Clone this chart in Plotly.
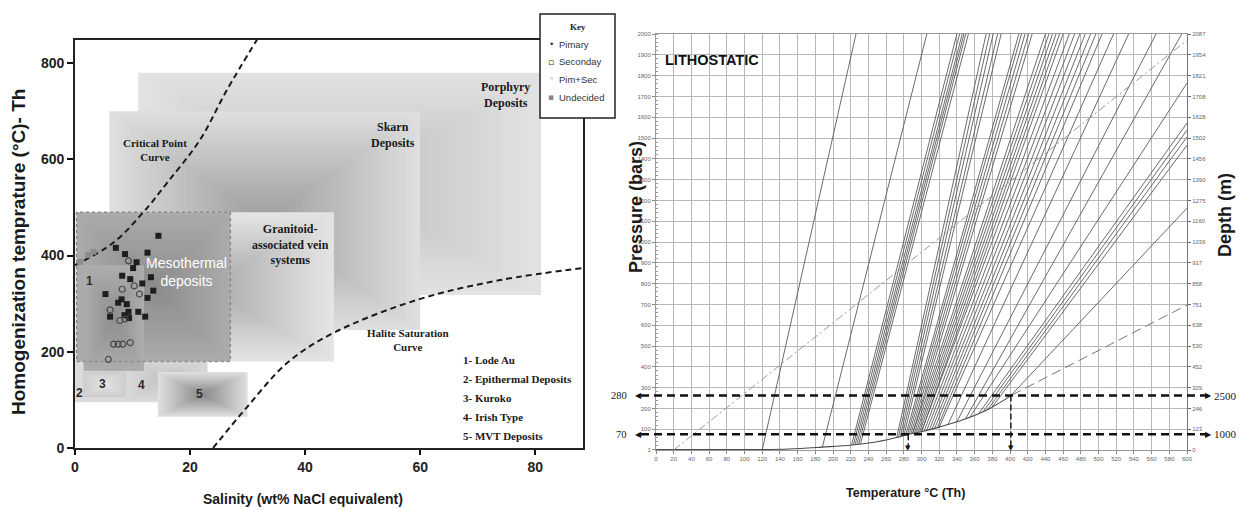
import plotly.graph_objects as go

W, H = 1239, 510
def fx(p):
    return p / W
def fy(p):
    return 1 - p / H

# ---------------- LEFT PANEL DATA ----------------
sal_ticks = [0, 20, 40, 60, 80]
th_ticks = [0, 200, 400, 600, 800]

crit_sal = [0, 6.6, 11.8, 16.0, 21.7, 26.4, 31.7]
crit_th = [380, 426, 489, 551, 640, 744, 850]
halite_sal = [24.0, 29.9, 36.9, 44.9, 59.5, 73.9, 89.0]
halite_th = [0, 85, 177, 239, 308, 349, 375]

sec_sal = [14.5, 7.1, 8.7, 12.6, 10.7, 10.1, 8.2, 9.6, 13.2, 11.7, 13.6, 12.6, 5.3, 8.1, 9.0, 7.5, 9.3, 11.0, 12.2, 9.4, 6.1, 8.6]
sec_th = [441, 416, 403, 406, 386, 374, 358, 351, 355, 342, 327, 312, 320, 309, 299, 302, 283, 283, 273, 270, 273, 276]
ps_sal = [9.3, 10.3, 11.2, 8.2, 6.1, 7.8, 8.7, 6.7, 7.5, 8.3, 9.6, 5.8]
ps_th = [389, 337, 320, 330, 287, 265, 268, 216, 216, 216, 219, 184]
und_sal = [0.9, 2.3, 3.2]
und_th = [387, 401, 408]

# deposit fields (drawing order)
box_name = ["Porphyry", "Skarn", "Granitoid", "Epithermal", "Irish", "Kuroko", "MVT", "Mesothermal", "Lode Au"]
box_x0 = [11, 6, 0, 0, 9, 1.4, 14.4, 0.3, 1.5]
box_x1 = [81, 60, 45, 23, 23, 8.7, 30, 27, 12]
box_y0 = [318, 245, 180, 95, 100, 106, 65, 180, 160]
box_y1 = [780, 700, 490, 183, 185, 158, 158, 490, 380]
box_edge = ["#e2e2e2", "#dedede", "#e4e4e4", "#dcdcdc", "#d8d8d8", "#cdcdcd", "#dfdfdf", "#ababab", "#adadad"]
box_center = ["#bdbdbd", "#9e9e9e", "#a9a9a9", "#cbcbcb", "#c3c3c3", "#e4e4e4", "#8a8a8a", "#8c8c8c", "#8f8f8f"]

# ---------------- RIGHT PANEL DATA ----------------
temp_ticks = list(range(0, 601, 20))
pres_ticks = [1] + list(range(100, 2001, 100))
depth_ticks = list(range(0, 2001, 100))
depth_labels = ["0", "123", "246", "329", "452", "530", "638", "751", "858", "917", "1036",
                "1160", "1275", "1390", "1456", "1502", "1628", "1708", "1821", "1954", "2087"]

lv_t = [0, 100, 150, 188, 222, 250, 272, 285, 300, 320, 346, 375, 402]
lv_p = [2, 2, 5, 14, 24, 40, 60, 75, 88, 110, 144, 195, 264]

ext_t = [402, 600]
ext_p = [264, 697]
grad_t = [20, 600]
grad_p = [0, 1970]

iso_t0 = [120, 188, 221, 223, 225, 227, 229, 231,
          272, 274, 276, 278, 280,
          282, 284, 286, 288, 290,
          290, 292, 294, 296, 298, 300,
          300, 303, 306, 309, 312, 315, 318,
          320, 330, 340, 350,
          355, 365, 370, 375, 380, 401]
iso_p0 = [0, 14, 24, 25, 26, 27, 28, 29,
          60, 62, 64, 66, 68,
          70, 73, 75, 77, 79,
          79, 81, 83, 85, 87, 88,
          88, 91, 95, 98, 101, 105, 108,
          110, 123, 136, 152,
          160, 177, 186, 195, 207, 262]
iso_t1 = [226, 306, 340, 343, 346, 348, 350, 353,
          373, 377, 381, 386, 390,
          410, 413, 417, 421, 425,
          440, 444, 448, 452, 456, 460,
          467, 473, 479, 485, 491, 497, 504,
          517, 534, 565, 594,
          600, 600, 600, 600, 600, 600]
iso_p1 = [2000] * 35 + [1764, 1572, 1538, 1505, 1466, 1163]

marker_p = [262, 76]
marker_left = ["280", "70"]
marker_right = ["2500", "1000"]
drop_t = [285, 401]
drop_p = [76, 262]

# ---------------- FIGURE ----------------
fig = go.Figure()

def hex2rgb(h):
    h = h.lstrip("#")
    return [int(h[i:i + 2], 16) for i in (0, 2, 4)]

shapes = []
N = 30
for x0, x1, y0, y1, e, c in zip(box_x0, box_x1, box_y0, box_y1, box_edge, box_center):
    ce, cc = hex2rgb(e), hex2rgb(c)
    cx, cy = (x0 + x1) / 2, (y0 + y1) / 2
    for k in range(N):
        f = k / N
        t = k / (N - 1)
        col = "rgb(%d,%d,%d)" % tuple(round(ce[i] + (cc[i] - ce[i]) * t) for i in range(3))
        shapes.append(dict(type="rect", xref="x", yref="y", layer="below",
                           x0=x0 + (cx - x0) * f, x1=x1 - (x1 - cx) * f,
                           y0=y0 + (cy - y0) * f, y1=y1 - (y1 - cy) * f,
                           fillcolor=col, line=dict(width=0)))
# mesothermal dotted border
mi = box_name.index("Mesothermal")
shapes.append(dict(type="rect", xref="x", yref="y", layer="below",
                   x0=box_x0[mi], x1=box_x1[mi], y0=box_y0[mi], y1=box_y1[mi],
                   fillcolor="rgba(0,0,0,0)", line=dict(color="#8a8a8a", width=1.5, dash="dot")))

# curves left
fig.add_trace(go.Scatter(x=crit_sal, y=crit_th, mode="lines", line=dict(color="#1a1a1a", width=2, dash="6px,4px", shape="spline"),
                         xaxis="x", yaxis="y", showlegend=False, hoverinfo="skip"))
fig.add_trace(go.Scatter(x=halite_sal, y=halite_th, mode="lines", line=dict(color="#1a1a1a", width=2, dash="6px,4px", shape="spline"),
                         xaxis="x", yaxis="y", showlegend=False, hoverinfo="skip"))
fig.add_trace(go.Scatter(x=und_sal, y=und_th, mode="markers", marker=dict(symbol="square", size=6, color="#8c8c8c"),
                         xaxis="x", yaxis="y", showlegend=False))
fig.add_trace(go.Scatter(x=sec_sal, y=sec_th, mode="markers", marker=dict(symbol="square", size=6, color="#1e1e1e"),
                         xaxis="x", yaxis="y", showlegend=False))
fig.add_trace(go.Scatter(x=ps_sal, y=ps_th, mode="markers",
                         marker=dict(symbol="circle-open", size=6, color="#4a4a4a", line=dict(width=1.2)),
                         xaxis="x", yaxis="y", showlegend=False))

# right panel lines
ix, iy = [], []
for a0, b0, c0, d0 in zip(iso_t0, iso_p0, iso_t1, iso_p1):
    ix += [a0, c0, None]
    iy += [b0, d0, None]
fig.add_trace(go.Scatter(x=ix, y=iy, mode="lines", line=dict(color="#5a5a5a", width=0.9),
                         xaxis="x2", yaxis="y2", showlegend=False, hoverinfo="skip"))
fig.add_trace(go.Scatter(x=lv_t, y=lv_p, mode="lines", line=dict(color="#4a4a4a", width=1.1, shape="spline"),
                         xaxis="x2", yaxis="y2", showlegend=False, hoverinfo="skip"))
fig.add_trace(go.Scatter(x=ext_t, y=ext_p, mode="lines", line=dict(color="#777", width=1, dash="10px,5px"),
                         xaxis="x2", yaxis="y2", showlegend=False, hoverinfo="skip"))
fig.add_trace(go.Scatter(x=grad_t, y=grad_p, mode="lines", line=dict(color="#999", width=1, dash="8px,3px,2px,3px"),
                         xaxis="x2", yaxis="y2", showlegend=False, hoverinfo="skip"))
fig.add_trace(go.Scatter(x=[0], y=[0], mode="markers", marker=dict(size=1, color="rgba(0,0,0,0)"),
                         xaxis="x2", yaxis="y3", showlegend=False, hoverinfo="skip"))

# marker dashed arrows (right)
for p in marker_p:
    shapes.append(dict(type="line", xref="paper", yref="y2", x0=fx(641), x1=fx(1206), y0=p, y1=p,
                       line=dict(color="#111", width=2.4, dash="8px,5px"), layer="above"))
for t, p in zip(drop_t, drop_p):
    shapes.append(dict(type="line", xref="x2", yref="y2", x0=t, x1=t, y0=p, y1=12,
                       line=dict(color="#111", width=1.4, dash="6px,3px"), layer="above"))

# key box
shapes.append(dict(type="rect", xref="paper", yref="paper", x0=fx(540), x1=fx(615), y0=fy(118), y1=fy(14),
                   fillcolor="white", line=dict(color="#222", width=1.5), layer="above"))

ann = []
serif = "Liberation Serif, Times New Roman, serif"
sans = "Liberation Sans, Arial, sans-serif"
narrow = "Liberation Sans Narrow, Arial Narrow, Liberation Sans, sans-serif"

def a(text, x, y, size, family=serif, color="#1a1a1a", xref="x", yref="y", xanchor="center", yanchor="middle", align="center", angle=0):
    ann.append(dict(text=text, x=x, y=y, xref=xref, yref=yref, showarrow=False,
                    font=dict(size=size, family=family, color=color), xanchor=xanchor, yanchor=yanchor,
                    align=align, textangle=angle))

a("<b>Porphyry<br>Deposits</b>", 74.8, 734, 12)
a("<b>Skarn<br>Deposits</b>", 55.3, 651, 12)
a("<b>Critical Point<br>Curve</b>", 13.9, 620, 11)
a("<b>Granitoid-<br>associated vein<br>systems</b>", 37.4, 422, 12)
a("Mesothermal<br>deposits", 19.3, 366, 14, family=sans, color="white")
a("<b>Halite Saturation<br>Curve</b>", 57.9, 225, 11)
legend_lines = ["1- Lode Au", "2- Epithermal Deposits", "3- Kuroko", "4- Irish Type", "5- MVT Deposits"]
for i, s in enumerate(legend_lines):
    a("<b>%s</b>" % s, fx(461), fy(360 + i * 19), 11, xref="paper", yref="paper", xanchor="left")
num_txt = ["1", "2", "3", "4", "5"]
num_x = [2.6, 0.7, 4.7, 11.5, 21.7]
num_y = [347, 114, 133, 131, 112]
for s, x, y in zip(num_txt, num_x, num_y):
    a("<b>%s</b>" % s, x, y, 12, family=sans, color="#2a2a2a")

# key contents
a("<b>Key</b>", fx(578), fy(27), 9, xref="paper", yref="paper")
key_sym = ["•", "▫", "◦", "▪"]
key_col = ["#333", "#333", "#333", "#888"]
key_txt = ["Pimary", "Seconday", "Pim+Sec", "Undecided"]
for i, (sy, c, t) in enumerate(zip(key_sym, key_col, key_txt)):
    yy = 44 + i * 17.7
    a(sy, fx(551), fy(yy), 9, family="DejaVu Sans", color=c, xref="paper", yref="paper")
    a(t, fx(557), fy(yy), 9.5, family=narrow, color="#333", xref="paper", yref="paper", xanchor="left")

# axis titles left
a("<b>Homogenization temprature (°C)- Th</b>", fx(18), fy(252), 19, family=sans, xref="paper", yref="paper", angle=-90)
a("<b>Salinity (wt% NaCl equivalent)</b>", fx(303), fy(499), 14, family=sans, xref="paper", yref="paper")

# right panel texts
a("<b>LITHOSTATIC</b>", fx(663), fy(60), 14.5, family=sans, color="#111", xref="paper", yref="paper", xanchor="left")
a("<b>Pressure (bars)</b>", fx(636), fy(207), 18, family=sans, xref="paper", yref="paper", angle=-90)
a("<b>Depth (m)</b>", fx(1225), fy(215), 18, family=sans, xref="paper", yref="paper", angle=-90)
a("<b>Temperature °C (Th)</b>", fx(905), fy(493), 12.5, family=sans, xref="paper", yref="paper")
for p, l, r in zip(marker_p, marker_left, marker_right):
    a(l, fx(629), p, 10.5, xref="paper", yref="y2", xanchor="right")
    a("◀", fx(638), p, 8, family="DejaVu Sans", color="#111", xref="paper", yref="y2")
    a("▶", fx(1208), p, 8, family="DejaVu Sans", color="#111", xref="paper", yref="y2")
    a(r, fx(1212), p, 11, xref="paper", yref="y2", xanchor="left")
for t in drop_t:
    a("▼", t, 10, 7, family="DejaVu Sans", color="#111", xref="x2", yref="y2")

tick_small = dict(size=6, color="#666", family=sans)
fig.update_layout(
    width=W, height=H, margin=dict(l=0, r=0, t=0, b=0, autoexpand=False),
    paper_bgcolor="white", plot_bgcolor="white",
    shapes=shapes, annotations=ann,
    xaxis=dict(domain=[fx(75), fx(583)], range=[0, 88.3], tickvals=sal_ticks, ticks="outside", ticklen=5,
               tickwidth=1.5, tickcolor="#111", showline=True, linecolor="#222", linewidth=1.8, mirror=True,
               showgrid=False, zeroline=False, anchor="y", automargin=False,
               tickfont=dict(size=14, family=sans, color="#222", weight="bold")),
    yaxis=dict(domain=[fy(448), fy(40)], range=[0, 848], tickvals=th_ticks, ticks="outside", ticklen=6,
               tickwidth=1.5, tickcolor="#111", showline=True, linecolor="#222", linewidth=1.8, mirror=True,
               showgrid=False, zeroline=False, anchor="x", automargin=False,
               tickfont=dict(size=14, family=sans, color="#222", weight="bold")),
    xaxis2=dict(domain=[fx(656), fx(1187)], range=[0, 600], tickvals=temp_ticks, ticks="outside", ticklen=3,
                tickcolor="#888", showline=True, linecolor="#999", mirror=True, showgrid=True,
                gridcolor="#b8b8b8", gridwidth=1, zeroline=False, anchor="y2", tickfont=tick_small, automargin=False),
    yaxis2=dict(domain=[fy(450), fy(34)], range=[0, 2000], tickvals=pres_ticks, ticks="outside", ticklen=3,
                tickcolor="#888", showline=True, linecolor="#999", mirror=False, showgrid=True,
                gridcolor="#b8b8b8", gridwidth=1, zeroline=False, anchor="x2", tickfont=tick_small, automargin=False,
                minor=dict(dtick=20, ticks="inside", ticklen=2, tickcolor="#999", showgrid=False)),
    yaxis3=dict(overlaying="y2", side="right", anchor="x2", range=[0, 2000], tickvals=depth_ticks,
                ticktext=depth_labels, ticks="outside", ticklen=3, tickcolor="#666", showline=True,
                linecolor="#777", linewidth=1, showgrid=False, zeroline=False, tickfont=tick_small, automargin=False),
    showlegend=False,
)

fig.write_html("out.html", config={"displayModeBar": False},
               post_script="document.body.style.margin='0';document.body.style.overflow='hidden';")
